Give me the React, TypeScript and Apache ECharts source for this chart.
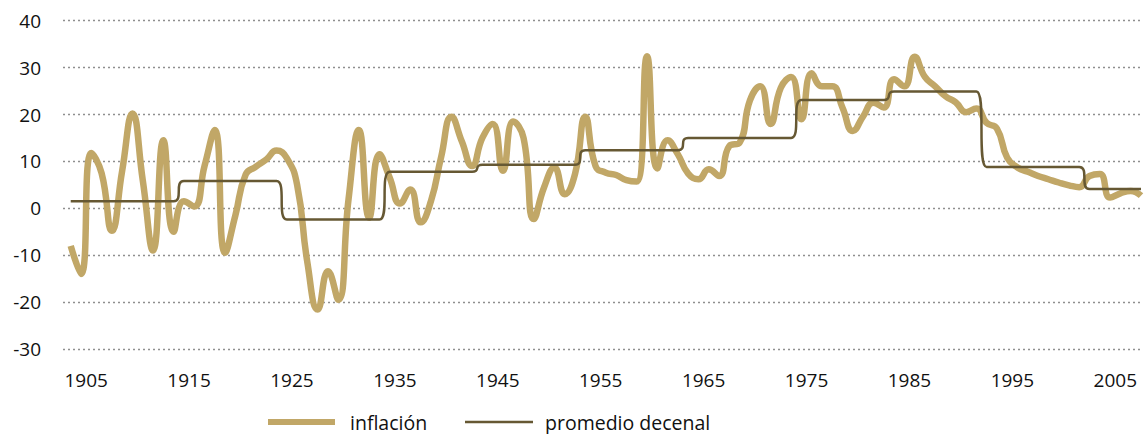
import React, { useEffect, useRef } from "react";
import * as echarts from "echarts";

// Years covered by the series (one value per year)
const firstYear = 1903;
const inflacion: number[] = [
  -8, -14, 11.8, 7.5, -4.8, 8, 20.2, 6, -9, 14.5, // 1903-1912
  -5, 1.5, 0.4, 9, 16.7, -9.5, -1.5, 7.2, 8.9, 10.4, // 1913-1922
  12.3, 10.7, 5, -11.6, -21.6, -13.4, -19.5, 2, 16.7, -2, // 1923-1932
  11.5, 6.5, 1, 4, -3, 1.5, 11, 19.5, 14.3, 9, // 1933-1942
  15, 18, 8, 18.5, 15, -2.3, 4.5, 8.7, 3, 7.3, // 1943-1952
  19.5, 9, 7.6, 7.1, 6, 5.7, 32.4, 8.5, 14.5, 11.5, // 1953-1962
  7.4, 6.2, 8.3, 6.9, 13.3, 14, 23, 26, 18, 25.7, // 1963-1972
  28, 19, 28.8, 26, 26, 21.4, 16.5, 19.6, 22.5, 21.5, // 1973-1982
  27.5, 26, 32.3, 28, 26, 23.9, 22.6, 20.5, 21.3, 18.2, // 1983-1992
  17, 10.8, 8.7, 7.8, 6.9, 6.2, 5.5, 4.9, 4.5, 6.9, // 1993-2002
  7.3, 2.3, 3.2, 3.7, 2.7, // 2003-2007
];
const years: number[] = inflacion.map((_, i) => firstYear + i);

// Ten-year average: first year of each period and its value
const periodStarts: number[] = [1903, 1914, 1924, 1934, 1943, 1953, 1963, 1974, 1983, 1992, 2002];
const periodValues: number[] = [1.5, 5.8, -2.4, 7.8, 9.3, 12.4, 15, 23.1, 24.9, 8.8, 4.1];

const xTickLabels: number[] = [1905, 1915, 1925, 1935, 1945, 1955, 1965, 1975, 1985, 1995, 2005];
const yTicks: number[] = [-30, -20, -10, 0, 10, 20, 30, 40];

const seriesNames = ["inflación", "promedio decenal"];

const FONT = '"Open Sans", Lato, sans-serif';
const GOLD = "#c1a767";
const OLIVE = "#665833";

function decadeFor(y: number): number {
  let v = periodValues[0];
  for (let i = 0; i < periodStarts.length; i++) {
    if (y >= periodStarts[i]) v = periodValues[i];
  }
  return v;
}

// annual values plotted at mid-year
const inflData = years.map((y, i) => [y + 0.5, inflacion[i]]);
const decData = years.map((y) => [y + 0.5, decadeFor(y)]);

export default function App() {
  const ref = useRef<HTMLDivElement>(null);
  useEffect(() => {
    if (!ref.current) return;
    const chart = echarts.init(ref.current, null, { renderer: "svg" });
    chart.setOption({
      animation: false,
      backgroundColor: "#ffffff",
      grid: { left: 63, right: 4, top: 20.7, bottom: 85, containLabel: false },
      xAxis: {
        type: "value",
        min: 1902.75,
        max: 2007.5,
        axisLine: { show: false },
        axisTick: { show: false },
        splitLine: { show: false },
        axisLabel: {
          customValues: xTickLabels,
          formatter: (v: number) => String(v),
          fontFamily: FONT,
          fontSize: 19,
          color: "#111111",
          margin: 21,
        },
      },
      yAxis: {
        type: "value",
        min: yTicks[0],
        max: yTicks[yTicks.length - 1],
        interval: 10,
        axisLine: { show: false },
        axisTick: { show: false },
        axisLabel: {
          fontFamily: FONT,
          fontSize: 19,
          color: "#111111",
          margin: 22,
        },
        splitLine: {
          show: true,
          lineStyle: { color: "#8f8f8f", width: 1.4, type: [2, 3] },
        },
      },
      legend: [
        {
          data: [seriesNames[0]],
          left: 268,
          top: 412,
          padding: 0,
          icon: "rect",
          itemWidth: 67,
          itemHeight: 6,
          selectedMode: false,
          textStyle: { fontFamily: FONT, fontSize: 19.5, color: "#111111", padding: [0, 0, 0, 10] },
        },
        {
          data: [seriesNames[1]],
          left: 465,
          top: 412,
          padding: 0,
          icon: "rect",
          itemWidth: 68,
          itemHeight: 2.5,
          selectedMode: false,
          textStyle: { fontFamily: FONT, fontSize: 19.5, color: "#111111", padding: [0, 0, 0, 7] },
        },
      ],
      series: [
        {
          name: seriesNames[0],
          type: "line",
          data: inflData,
          smooth: 0.5,
          symbol: "none",
          color: GOLD,
          lineStyle: { color: GOLD, width: 6.5, cap: "butt", join: "round" },
          z: 2,
        },
        {
          name: seriesNames[1],
          type: "line",
          data: decData,
          smooth: 0.8,
          symbol: "none",
          color: OLIVE,
          lineStyle: { color: OLIVE, width: 2.5 },
          z: 3,
        },
      ],
    });
    return () => chart.dispose();
  }, []);
  return (
    <div
      ref={ref}
      style={{ position: "absolute", left: 0, top: 0, width: 1145, height: 434 }}
    />
  );
}
